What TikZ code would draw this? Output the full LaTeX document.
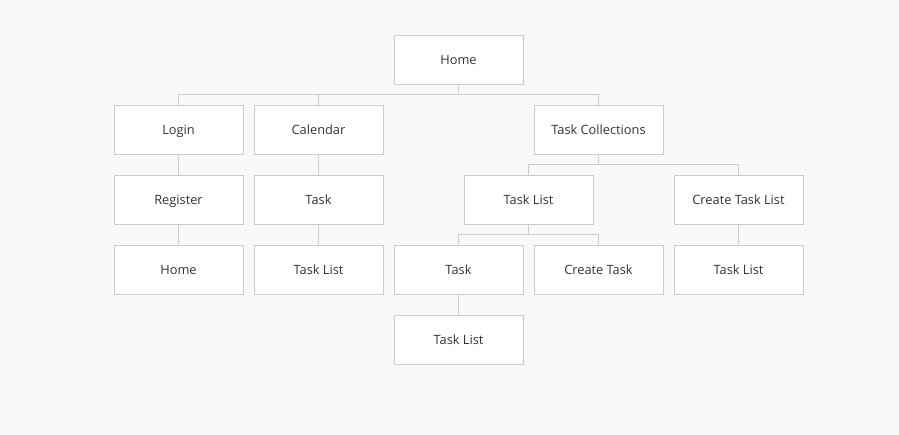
\documentclass[tikz,border=0pt]{standalone}
\usepackage{fontspec}
\setmainfont{Open Sans}
\usetikzlibrary{positioning,shadows}
\definecolor{pagebg}{HTML}{F8F9FB}
\definecolor{boxline}{HTML}{CCCCCC}
\definecolor{linkline}{HTML}{CDCDCD}
\definecolor{boxtext}{HTML}{333333}
\tikzset{
  page/.style={draw=boxline, fill=white, minimum width=96.75pt, minimum height=36.75pt,
    inner sep=0pt, outer sep=0pt, text height=8.4pt, text depth=1.5pt,
    font=\fontsize{9.6}{11}\selectfont, text=boxtext,
    drop shadow={shadow xshift=0pt, shadow yshift=-1pt, opacity=0.08, fill=black}},
  link/.style={draw=linkline, line width=0.75pt},
}
\begin{document}
\begin{tikzpicture}[node distance=15.75pt and 8.25pt]
	\fill[pagebg] (-343.875pt,44.625pt) rectangle (330.375pt,-281.625pt);
	\useasboundingbox (-343.875pt,44.625pt) rectangle (330.375pt,-281.625pt);

	\node[page] (home) {Home};
	\node[page, below=of home, xshift=-105pt] (calendar) {Calendar};
	\node[page, left=of calendar] (login) {Login};
	\node[page, below=of home, xshift=105pt] (collections) {Task Collections};
	\node[page, below=of login] (register) {Register};
	\node[page, below=of register] (loginhome) {Home};
	\node[page, below=of calendar] (caltask) {Task};
	\node[page, below=of caltask] (caltasklist) {Task List};
	\node[page, below=of collections, xshift=-52.5pt] (tasklist) {Task List};
	\node[page, below=of collections, xshift=105pt] (createlist) {Create Task List};
	\node[page, below=of tasklist, xshift=-52.5pt] (task) {Task};
	\node[page, right=of task] (createtask) {Create Task};
	\node[page, below=of task] (tasktasklist) {Task List};
	\node[page, below=of createlist] (createtasklist) {Task List};

	\draw[link] (home.south) -- ++(0,-8pt) -| (login.north);
	\draw[link] (home.south) -- ++(0,-8pt) -| (calendar.north);
	\draw[link] (home.south) -- ++(0,-8pt) -| (collections.north);
	\draw[link] (login) -- (register);
	\draw[link] (register) -- (loginhome);
	\draw[link] (calendar) -- (caltask);
	\draw[link] (caltask) -- (caltasklist);
	\draw[link] (collections.south) -- ++(0,-8pt) -| (tasklist.north);
	\draw[link] (collections.south) -- ++(0,-8pt) -| (createlist.north);
	\draw[link] (tasklist.south) -- ++(0,-8pt) -| (task.north);
	\draw[link] (tasklist.south) -- ++(0,-8pt) -| (createtask.north);
	\draw[link] (task) -- (tasktasklist);
	\draw[link] (createlist) -- (createtasklist);
\end{tikzpicture}
\end{document}
